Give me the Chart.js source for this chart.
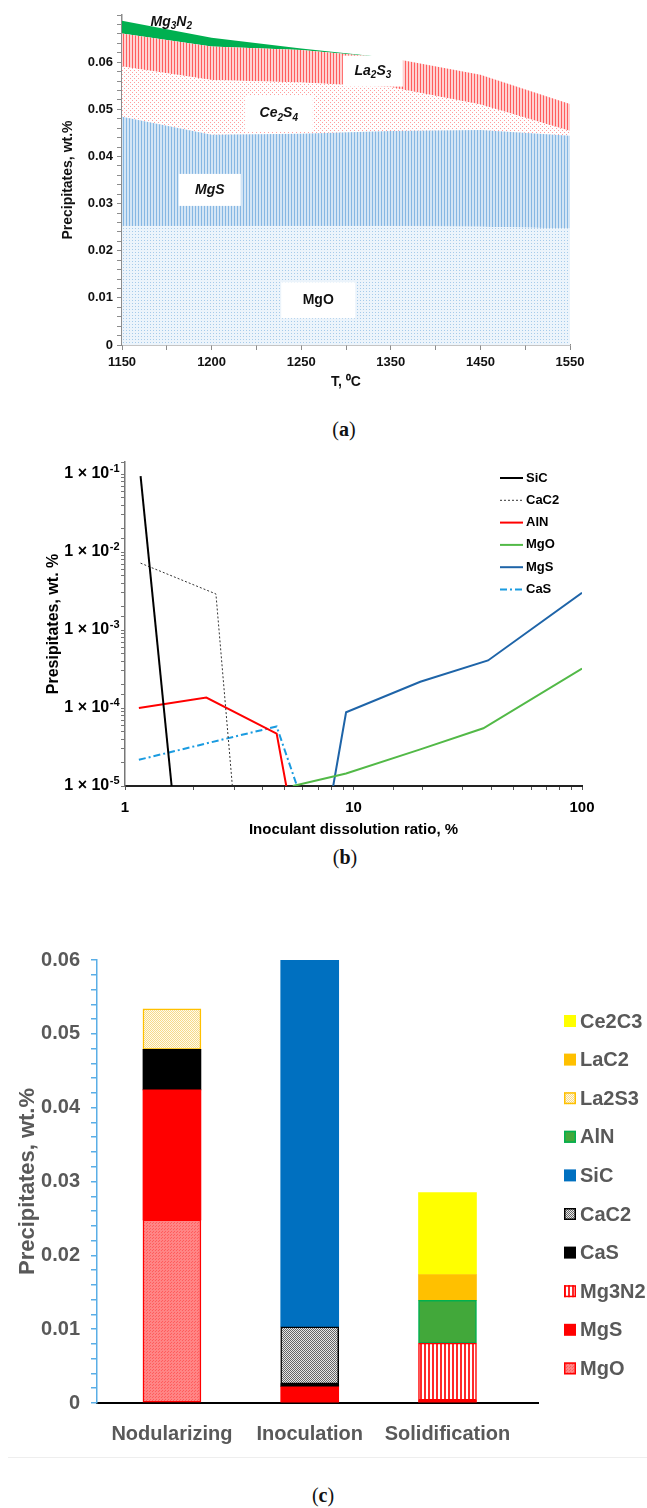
<!DOCTYPE html>
<html>
<head>
<meta charset="utf-8">
<script src="https://cdn.jsdelivr.net/npm/chart.js@4.4.1/dist/chart.umd.min.js"></script>
<style>
html,body{margin:0;padding:0;background:#fff;}
body{position:relative;width:647px;height:1508px;overflow:hidden;}
canvas{position:absolute;left:0;}
.cap{position:absolute;width:60px;text-align:center;font-family:'Liberation Serif','DejaVu Serif',serif;font-size:20px;line-height:24px;color:#111;}
.sep{position:absolute;left:8px;width:639px;top:1457px;height:0;border-top:1px solid #eeeeee;}
</style>
</head>
<body>
<canvas id="ca" width="647" height="405" style="top:0px"></canvas>
<canvas id="cb" width="647" height="400" style="top:445px"></canvas>
<canvas id="cc" width="647" height="580" style="top:880px"></canvas>
<div class="cap" style="left:314px;top:417px">(<b>a</b>)</div>
<div class="cap" style="left:315px;top:845px">(<b>b</b>)</div>
<div class="sep"></div>
<div class="cap" style="left:293px;top:1483px">(<b>c</b>)</div>
<script>
// ================= DATA =================
// Panel (a): stacked precipitates vs temperature
const tempLabels = ['1150', '1200', '1250', '1350', '1450', '1550'];
const aMgO   = [0.0252, 0.0252, 0.0252, 0.0252, 0.0251, 0.0247];
const aMgS   = [0.0232, 0.0194, 0.0196, 0.0202, 0.0205, 0.0197];
const aCe2S4 = [0.0107, 0.0116, 0.0109, 0.0093, 0.0054, 0.0010];
const aLa2S3 = [0.0070, 0.0071, 0.0069, 0.0062, 0.0063, 0.0057];
const aMg3N2 = [0.0027, 0.0019, 0.0003, 0, 0, 0];

// Panel (b): log-log lines
const sicX  = [1.17, 1.60];               const sicY  = [0.094, 1e-5];
const cac2X = [1.17, 2.50, 2.95];         const cac2Y = [0.0072, 0.0029, 1e-5];
const alnX  = [1.15, 2.27, 4.61, 5.08];   const alnY  = [1.0e-4, 1.36e-4, 4.7e-5, 1e-5];
const mgoX  = [5.43, 9.28, 19.6, 37.0, 100]; const mgoY = [1e-5, 1.45e-5, 2.95e-5, 5.5e-5, 3.2e-4];
const mgsX  = [8.15, 9.28, 19.6, 38.8, 100]; const mgsY = [1e-5, 8.8e-5, 2.17e-4, 4.07e-4, 3.0e-3];
const casX  = [1.15, 4.61, 5.66];         const casY  = [2.17e-5, 5.8e-5, 1e-5];
const bXTickLabels = ['1', '10', '100'];
const bYTickExponents = [-1, -2, -3, -4, -5];

// Panel (c): stacked bars by stage
const stages  = ['Nodularizing', 'Inoculation', 'Solidification'];
const cMgO    = [0.0248, 0, 0];
const cMgS    = [0.0176, 0.0022, 0.0004];
const cMg3N2  = [0, 0, 0.0077];
const cCaS    = [0.0055, 0.0004, 0];
const cCaC2   = [0, 0.0077, 0];
const cSiC    = [0, 0.0497, 0];
const cAlN    = [0, 0, 0.0058];
const cLa2S3  = [0.0055, 0, 0];
const cLaC2   = [0, 0, 0.0035];
const cCe2C3  = [0, 0, 0.0111];

// ================= HELPERS =================
const SANS = "'Liberation Sans', Arial, Helvetica, sans-serif";
const NARROW = "'Liberation Sans Narrow', 'Liberation Sans', Arial, sans-serif";
Chart.defaults.font.family = SANS;
Chart.defaults.color = '#000';
Chart.defaults.animation = false;

function makePattern(ctx, w, h, bg, fg, cells) {
  const c = document.createElement('canvas');
  c.width = w; c.height = h;
  const x = c.getContext('2d');
  if (bg) { x.fillStyle = bg; x.fillRect(0, 0, w, h); }
  x.fillStyle = fg;
  cells.forEach(([a, b, cw, ch]) => x.fillRect(a, b, cw || 1, ch || 1));
  return ctx.createPattern(c, 'repeat');
}
function drawChem(ctx, parts, cx, cy, size, italic) {
  const st = italic ? 'italic ' : '';
  const main = st + 'bold ' + size + 'px ' + SANS;
  const sub = st + 'bold ' + Math.round(size * 0.68) + 'px ' + SANS;
  let w = 0;
  parts.forEach(([t, s]) => { ctx.font = s ? sub : main; w += ctx.measureText(t).width; });
  let x = cx - w / 2;
  ctx.textBaseline = 'middle'; ctx.textAlign = 'left';
  parts.forEach(([t, s]) => {
    ctx.font = s ? sub : main;
    ctx.fillText(t, x, cy + (s ? size * 0.32 : 0));
    x += ctx.measureText(t).width;
  });
}
const pts = arr => arr.map((v, i) => ({ x: i, y: v }));
const pairs = (xs, ys) => xs.map((x, i) => ({ x: x, y: ys[i] }));

// ================= PANEL (a) =================
(function () {
  const ctx = document.getElementById('ca').getContext('2d');
  const pMgO = makePattern(ctx, 3, 3, '#ecf4fb', '#a6cbea', [[0, 0]]);
  const pMgS = makePattern(ctx, 3, 1, '#d3e5f5', '#86b7e3', [[0, 0]]);
  const pCe = makePattern(ctx, 4, 4, '#ffffff', '#ff9d9d', [[0, 0], [2, 2]]);
  const pLa = makePattern(ctx, 3, 1, '#ffd2d2', '#ff5e5e', [[0, 0]]);

  const notes = [
    { parts: [['Mg', 0], ['3', 1], ['N', 0], ['2', 1]], xi: 0.55, yv: 0.0685, w: 0, h: 0, it: true },
    { parts: [['La', 0], ['2', 1], ['S', 0], ['3', 1]], xi: 2.80, yv: 0.0581, w: 60, h: 31, it: true },
    { parts: [['Ce', 0], ['2', 1], ['S', 0], ['4', 1]], xi: 1.75, yv: 0.0491, w: 68, h: 37, it: true },
    { parts: [['MgS', 0]], xi: 0.98, yv: 0.0329, w: 62, h: 32, it: true },
    { parts: [['MgO', 0]], xi: 2.19, yv: 0.0095, w: 74, h: 36, it: false }
  ];
  const notePlugin = {
    id: 'notesA',
    afterDatasetsDraw(chart) {
      const c = chart.ctx, xs = chart.scales.x, ys = chart.scales.y;
      c.save();
      notes.forEach(n => {
        const px = xs.getPixelForValue(n.xi), py = ys.getPixelForValue(n.yv);
        if (n.w) { c.fillStyle = '#ffffff'; c.fillRect(px - n.w / 2, py - n.h / 2, n.w, n.h); }
        c.fillStyle = '#111';
        drawChem(c, n.parts, px, py, 14, n.it);
      });
      c.restore();
    }
  };

  new Chart(ctx, {
    type: 'line',
    data: {
      datasets: [
        { label: 'MgO', data: pts(aMgO), fill: 'origin', backgroundColor: pMgO },
        { label: 'MgS', data: pts(aMgS), fill: '-1', backgroundColor: pMgS },
        { label: 'Ce2S4', data: pts(aCe2S4), fill: '-1', backgroundColor: pCe },
        { label: 'La2S3', data: pts(aLa2S3), fill: '-1', backgroundColor: pLa },
        { label: 'Mg3N2', data: pts(aMg3N2), fill: '-1', backgroundColor: '#00b050' }
      ]
    },
    options: {
      responsive: false,
      animation: false,
      layout: { padding: { left: 0, right: 77, top: 15, bottom: 0 } },
      elements: { point: { radius: 0 }, line: { borderWidth: 0, tension: 0 } },
      plugins: { legend: { display: false }, tooltip: { enabled: false } },
      scales: {
        x: {
          type: 'linear', min: 0, max: 5,
          afterFit: s => { s.height = 60; },
          ticks: {
            stepSize: 0.5, autoSkip: false, maxRotation: 0, minRotation: 0, padding: 5,
            font: { size: 13, weight: 'bold' }, color: '#111',
            callback: v => (Math.abs(v - Math.round(v)) < 1e-6 ? tempLabels[Math.round(v)] : '')
          },
          grid: { drawOnChartArea: false, drawTicks: true, tickLength: 5, color: '#8c8c8c', lineWidth: 1 },
          border: { display: true, color: '#8c8c8c', width: 1.5 },
          title: { display: true, text: 'T, \u2070C', font: { size: 14, weight: 'bold' }, color: '#111', padding: { bottom: 14 } }
        },
        y: {
          type: 'linear', stacked: true, min: 0, max: 0.07,
          afterFit: s => { s.width = 122; },
          ticks: {
            stepSize: 0.002, autoSkip: false, padding: 4,
            font: { size: 13, weight: 'bold' }, color: '#111',
            callback: v => {
              const k = Math.round(v * 100);
              if (Math.abs(v * 100 - k) > 1e-6 || k > 6) return '';
              return k === 0 ? '0' : (k / 100).toFixed(2);
            }
          },
          grid: { drawOnChartArea: false, drawTicks: true, tickLength: 5, color: '#8c8c8c', lineWidth: 1 },
          border: { display: true, color: '#8c8c8c', width: 1.5 },
          title: { display: true, text: 'Precipitates, wt.%', font: { size: 14, weight: 'bold' }, color: '#111', padding: { top: 60 } }
        }
      }
    },
    plugins: [notePlugin]
  });
})();

// ================= PANEL (b) =================
(function () {
  const ctx = document.getElementById('cb').getContext('2d');
  const decor = {
    id: 'decorB',
    afterDraw(chart) {
      const c = chart.ctx, ys = chart.scales.y;
      const left = chart.chartArea.left;
      c.save();
      c.fillStyle = '#000';
      c.textBaseline = 'middle';
      bYTickExponents.forEach(e => {
        const py = ys.getPixelForValue(Math.pow(10, e));
        const sup = '-' + String(-e);
        c.font = 'bold 11px ' + SANS;
        const ws = c.measureText(sup).width;
        const xr = left - 6 - ws;
        c.font = 'bold 16px ' + SANS;
        c.textAlign = 'right';
        c.fillText('1 \u00d7 10', xr, py);
        c.font = 'bold 11px ' + SANS;
        c.textAlign = 'left';
        c.fillText(sup, xr + 0.5, py - 5);
      });
      // legend
      c.font = 'bold 13px ' + NARROW;
      chart.data.datasets.forEach((d, i) => {
        const yy = 33 + 22.3 * i;
        c.strokeStyle = d.borderColor;
        c.lineWidth = d.borderWidth;
        c.setLineDash(d.borderDash || []);
        c.beginPath(); c.moveTo(500, yy); c.lineTo(523, yy); c.stroke();
        c.setLineDash([]);
        c.fillStyle = '#000';
        c.textAlign = 'left';
        c.fillText(d.label, 526, yy);
      });
      c.restore();
    }
  };
  new Chart(ctx, {
    type: 'line',
    data: {
      datasets: [
        { label: 'SiC', data: pairs(sicX, sicY), borderColor: '#000000', borderWidth: 2 },
        { label: 'CaC2', data: pairs(cac2X, cac2Y), borderColor: '#333333', borderWidth: 1, borderDash: [2, 2] },
        { label: 'AlN', data: pairs(alnX, alnY), borderColor: '#ff0000', borderWidth: 2 },
        { label: 'MgO', data: pairs(mgoX, mgoY), borderColor: '#52b947', borderWidth: 2 },
        { label: 'MgS', data: pairs(mgsX, mgsY), borderColor: '#1e64a8', borderWidth: 2 },
        { label: 'CaS', data: pairs(casX, casY), borderColor: '#1a9be0', borderWidth: 2, borderDash: [7, 3, 2, 3] }
      ]
    },
    options: {
      responsive: false,
      animation: false,
      layout: { padding: { left: 0, right: 65, top: 17, bottom: 0 } },
      elements: { point: { radius: 0 }, line: { tension: 0, fill: false } },
      plugins: { legend: { display: false }, tooltip: { enabled: false } },
      scales: {
        x: {
          type: 'logarithmic', min: 1, max: 100,
          afterFit: s => { s.height = 59; },
          ticks: {
            autoSkip: false, maxRotation: 0, minRotation: 0, padding: 9,
            font: { size: 15, weight: 'bold' }, color: '#000',
            callback: v => {
              const e = Math.log10(v);
              return Math.abs(e - Math.round(e)) < 1e-6 ? bXTickLabels[Math.round(e)] : '';
            }
          },
          grid: { drawOnChartArea: false, drawTicks: true, tickLength: 4, color: '#555555' },
          border: { display: true, color: '#222222', width: 2 },
          title: { display: true, text: 'Inoculant dissolution ratio, %', font: { size: 15, weight: 'bold', family: NARROW }, color: '#000', padding: { bottom: 6 } }
        },
        y: {
          type: 'logarithmic', min: 1e-5, max: 0.1426,
          afterFit: s => { s.width = 125; },
          ticks: { autoSkip: false, callback: () => '' },
          grid: { drawOnChartArea: false, drawTicks: true, tickLength: 4, color: '#777777' },
          border: { display: true, color: '#777777', width: 1.5 },
          title: { display: true, text: 'Presipitates, wt. %', font: { size: 16, weight: 'bold' }, color: '#000', padding: { top: 44 } }
        }
      }
    },
    plugins: [decor]
  });
})();

// ================= PANEL (c) =================
(function () {
  const ctx = document.getElementById('cc').getContext('2d');
  const pMgO = makePattern(ctx, 3, 3, '#ff8585', '#ff5c5c', [[0, 0], [2, 1]]);
  const pMg3N2 = makePattern(ctx, 4, 1, '#ffffff', '#ff2a2a', [[0, 0, 2, 1]]);
  const pCaC2 = makePattern(ctx, 2, 2, '#e8e8e8', '#666666', [[0, 0], [1, 1]]);
  const pLa2S3 = makePattern(ctx, 2, 2, '#fffbea', '#f6d98a', [[0, 0], [1, 1]]);

  const defs = [
    { label: 'MgO', data: cMgO, bg: pMgO, bc: '#ff0000', bw: 1.5 },
    { label: 'MgS', data: cMgS, bg: '#ff0000', bc: '#ff0000', bw: 0 },
    { label: 'Mg3N2', data: cMg3N2, bg: pMg3N2, bc: '#ff0000', bw: 1.5 },
    { label: 'CaS', data: cCaS, bg: '#000000', bc: '#000000', bw: 0 },
    { label: 'CaC2', data: cCaC2, bg: pCaC2, bc: '#000000', bw: 1.5 },
    { label: 'SiC', data: cSiC, bg: '#0070c0', bc: '#0070c0', bw: 0 },
    { label: 'AlN', data: cAlN, bg: '#42a83a', bc: '#00b050', bw: 1.5 },
    { label: 'La2S3', data: cLa2S3, bg: pLa2S3, bc: '#ffc000', bw: 1.5 },
    { label: 'LaC2', data: cLaC2, bg: '#ffc000', bc: '#ffc000', bw: 0 },
    { label: 'Ce2C3', data: cCe2C3, bg: '#ffff00', bc: '#ffff00', bw: 0 }
  ];
  const legendC = {
    id: 'legendC',
    afterDraw(chart) {
      const c = chart.ctx, ds = chart.data.datasets;
      c.save();
      c.font = 'bold 20px ' + SANS;
      c.textBaseline = 'middle';
      c.textAlign = 'left';
      for (let i = 0; i < ds.length; i++) {
        const d = ds[ds.length - 1 - i];
        const y = 141 + 38.6 * i;
        c.fillStyle = d.backgroundColor;
        c.fillRect(564, y - 6, 12, 12);
        if (d.borderWidth) {
          c.strokeStyle = d.borderColor; c.lineWidth = 1.5;
          c.strokeRect(564.75, y - 5.25, 10.5, 10.5);
        }
        c.fillStyle = '#595959';
        c.fillText(d.label, 580, y + 1);
      }
      c.restore();
    }
  };
  new Chart(ctx, {
    type: 'bar',
    data: {
      datasets: defs.map(d => ({
        label: d.label,
        data: d.data.map((v, i) => ({ x: i, y: v === 0 ? null : v })),
        backgroundColor: d.bg,
        borderColor: d.bc,
        borderWidth: d.bw,
        borderSkipped: false,
        barThickness: 58
      }))
    },
    options: {
      responsive: false,
      animation: false,
      layout: { padding: { left: 0, right: 109, top: 80, bottom: 0 } },
      plugins: { legend: { display: false }, tooltip: { enabled: false } },
      scales: {
        x: {
          type: 'linear', stacked: true, offset: false, min: -0.544, max: 2.657,
          afterFit: s => { s.height = 57; },
          afterBuildTicks: s => { s.ticks = stages.map((_, i) => ({ value: i })); },
          ticks: {
            padding: 19, font: { size: 20, weight: 'bold' }, color: '#595959', maxRotation: 0, autoSkip: false,
            callback: v => stages[Math.round(v)]
          },
          grid: { display: false, drawTicks: false, offset: false },
          border: { display: true, color: '#000000', width: 2 }
        },
        y: {
          stacked: true, min: 0, max: 0.06,
          afterFit: s => { s.width = 97; },
          ticks: {
            stepSize: 0.002, autoSkip: false, padding: 11,
            font: { size: 20, weight: 'bold' }, color: '#595959',
            callback: v => {
              const k = Math.round(v * 100);
              if (Math.abs(v * 100 - k) > 1e-6) return '';
              return k === 0 ? '0' : (k / 100).toFixed(2);
            }
          },
          grid: { drawOnChartArea: false, drawTicks: true, tickLength: 6, color: '#5aaee6', lineWidth: 1.5 },
          border: { display: true, color: '#5aaee6', width: 1.5 },
          title: { display: true, text: 'Precipitates, wt.%', font: { size: 22, weight: 'bold' }, color: '#595959', padding: { top: 15 } }
        }
      }
    },
    plugins: [legendC]
  });
})();
</script>
</body>
</html>
